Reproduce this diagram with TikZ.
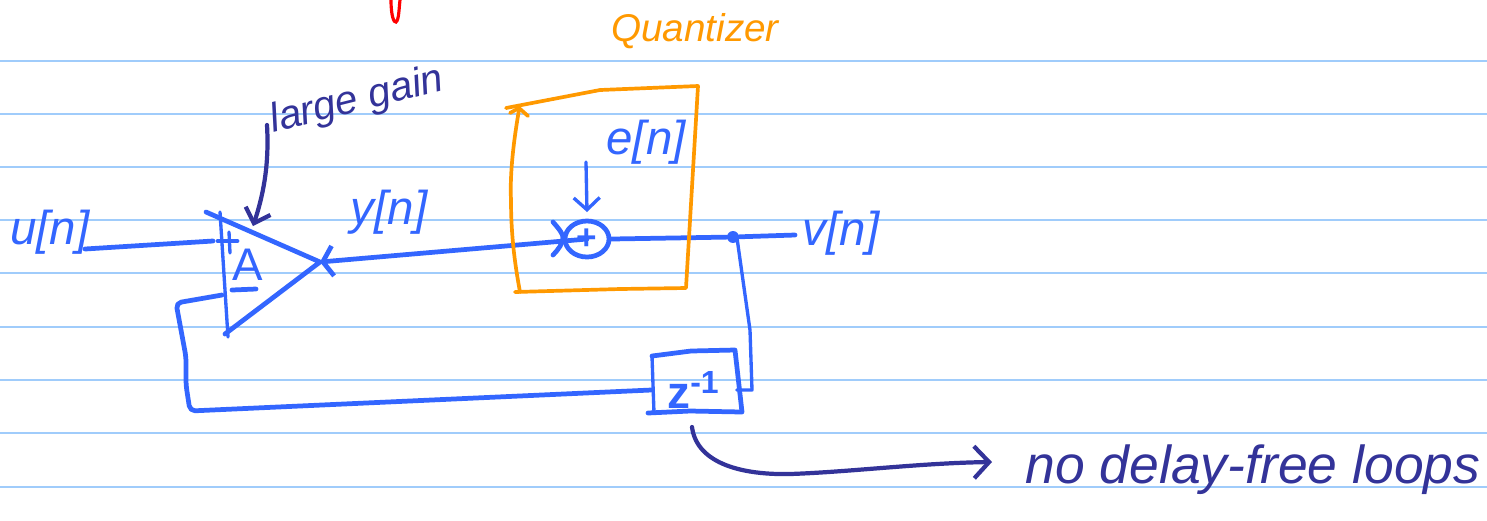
\documentclass[tikz,border=0pt]{standalone}
\usepackage{fontspec}
\setmainfont{Liberation Sans}
\usetikzlibrary{arrows.meta,positioning,calc,shapes.geometric}
\definecolor{rulec}{RGB}{160,204,251}
\definecolor{penblue}{RGB}{51,102,255}
\definecolor{pennavy}{RGB}{51,51,153}
\definecolor{penorange}{RGB}{255,153,0}
\definecolor{penred}{RGB}{255,0,0}
\tikzset{
  rul/.style={rulec, line width=0.7pt},
  wire/.style={penblue, line width=1.35pt, line cap=round, line join=round},
  thinw/.style={penblue, line width=0.95pt, line cap=round, line join=round},
  qbox/.style={penorange, line width=1.05pt, line cap=round, line join=round},
  narr/.style={pennavy, line width=1.2pt, line cap=round, line join=round,
               -{Straight Barb[length=1.3mm, width=2.6mm]}},
  blab/.style={text=penblue, font=\fontsize{13.5}{14}\selectfont\itshape, inner sep=0pt},
  nlab/.style={text=pennavy, font=\fontsize{11.5}{12}\selectfont\itshape, inner sep=0pt},
  sumn/.style={ellipse, draw=penblue, line width=1.35pt, minimum width=0.44cm, minimum height=0.36cm,
               inner sep=0pt, text=penblue, font=\fontsize{10}{10}\selectfont\bfseries},
  delayn/.style={minimum width=0.84cm, minimum height=0.4cm, inner sep=0pt, text=penblue,
               font=\fontsize{13}{13}\selectfont\bfseries},
  jdot/.style={circle, fill=penblue, inner sep=0pt, minimum size=3.4pt},
}
\begin{document}
\begin{tikzpicture}[x=0.01cm, y=-0.01cm]
  \useasboundingbox (0,0) rectangle (1487,520);
  \fill[white] (0,0) rectangle (1487,520);
  \foreach \yrul in {61,114,167,220,273,327,380,433,487}
    \draw[rul] (0,\yrul) -- (1487,\yrul);
  \draw[penred, line width=0.9pt, line cap=round] (391,0) .. controls (391,16) and (394,23) .. (396,22) .. controls (399,20) and (399,8) .. (400,0);

  \coordinate (ampul) at (206,212);
  \coordinate (amptip) at (320,262);
  \coordinate (ampll) at (225,334);
  \coordinate (barb) at (220,212);
  \coordinate (barl) at (228,337);
  \coordinate (plusin) at (213,241);
  \coordinate (minusin) at (222,295);
  \coordinate (inend) at (85,249);
  \coordinate (vend) at (795,235);
  \coordinate (fbtop) at (737,238);
  \coordinate (fbmid) at (752,390);
  \coordinate (fbl) at (190,411);
  \coordinate (fbup) at (186,357);
  \coordinate (fbc) at (176,303);

  \node[blab] (ulab) at (50,232) {u[n]};
  \node[blab] (ylab) at (389,212) {y[n]};
  \node[blab] (elab) at (646,142) {e[n]};
  \node[blab] (vlab) at (841,233) {v[n]};
  \node[blab, font=\fontsize{13}{13}\selectfont] (alab) at (248,265) {A};
  \node[nlab, rotate=14] (gainlab) at (357,101) {large gain};
  \node[text=penorange, font=\fontsize{11}{11}\selectfont\itshape, inner sep=0pt] (qlab) at (695,31) {Quantizer};
  \node[nlab, font=\fontsize{15.2}{15}\selectfont\itshape] (looplab) at (1253,470) {no delay-free loops};

  \node[sumn] (sumq) at (587,239) {+};
  \node[delayn] (delay) at (694,390) {z\textsuperscript{-1}};
  \node[jdot] (jn) at (733,237) {};

  \draw[wire] (ampul) -- (amptip) -- (ampll);
  \draw[thinw] (barb) -- (barl);
  \draw[wire] (inend) -- (plusin);
  \draw[wire, {Straight Barb[length=1mm, width=3mm]}-] (amptip) -- (sumq.center);
  \draw[wire] (553,222) .. controls (560,230) and (563,234) .. (563,238) .. controls (563,243) and (558,250) .. (553,255);
  \draw[wire] (sumq.east) -- (jn) -- (vend);
  \draw[thinw] (fbtop) -- (750,330) -- (fbmid) -- (delay.east);
  \draw[wire, rounded corners=1.5pt] (delay.west) -- (fbl) -- (186,385) -- (fbup) -- (fbc) -- (minusin);
  \draw[wire] (652,356) -- (691,351) -- (735,350) -- (742,412) -- (690,411) -- (648,413);
  \draw[thinw] (652,356) -- (654,413);

  \draw[wire] (218,241) -- (237,241);
  \draw[thinw] (229,232) -- (230,253);
  \draw[wire] (232,290) -- (256,289);
  \draw[thinw, -{Straight Barb[length=1.2mm, width=2.6mm]}] (586,162) -- (587,212);

  \draw[narr] (267,125) .. controls (269,160) and (265,190) .. (253,226);
  \draw[narr, -{Straight Barb[length=1.5mm, width=3.2mm]}] (692,427) .. controls (697,465) and (745,475) .. (790,474) .. controls (850,472) and (920,463) .. (992,462);

  \draw[qbox] (506,108) -- (600,90) -- (698,86) -- (686,288) -- (620,289) -- (515,292);
  \draw[qbox] (519,110) .. controls (512,150) and (510,180) .. (511,200) .. controls (511,240) and (516,270) .. (520,292);
  \draw[qbox] (510,113) -- (519,108) -- (528,116);
\end{tikzpicture}
\end{document}
